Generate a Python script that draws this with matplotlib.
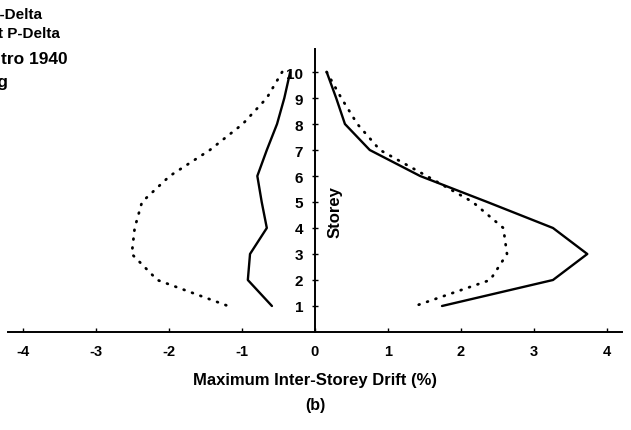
import matplotlib
matplotlib.use("Agg")
import matplotlib.pyplot as plt

plt.rcParams['font.family'] = ['Liberation Sans', 'DejaVu Sans']

storeys = [10, 9, 8, 7, 6, 5, 4, 3, 2, 1]

# negative direction of loading
neg_with_pdelta = [-0.34, -0.42, -0.52, -0.66, -0.79, -0.73, -0.66, -0.89, -0.92, -0.59]
neg_without_pdelta = [-0.45, -0.66, -0.99, -1.44, -1.99, -2.37, -2.47, -2.51, -2.16, -1.19]

# positive direction of loading
pos_with_pdelta = [0.16, 0.29, 0.41, 0.75, 1.44, 2.36, 3.26, 3.73, 3.26, 1.74]
pos_without_pdelta = [0.16, 0.36, 0.58, 0.89, 1.53, 2.16, 2.58, 2.63, 2.40, 1.37]

x_ticks = [-4, -3, -2, -1, 0, 1, 2, 3, 4]
x_tick_labels = ['-4', '-3', '-2', '-1', '0', '1', '2', '3', '4']
y_ticks = [1, 2, 3, 4, 5, 6, 7, 8, 9, 10]

legend_lines = ['With P-Delta', 'Without P-Delta', 'El Centro 1940', 'PGA 0.5g']

fig = plt.figure(figsize=(6.31, 4.31), dpi=100)
ax = fig.add_axes([0.0133, 0.2274, 0.9718, 0.6575])

dotted = (0, (0.3, 2.9))
ax.plot(neg_with_pdelta, storeys, color='black', lw=1.7, solid_capstyle='round')
ax.plot(pos_with_pdelta, storeys, color='black', lw=1.7, solid_capstyle='round')
ax.plot(neg_without_pdelta, storeys, color='black', lw=2.0, linestyle=dotted,
        dash_capstyle='round')
ax.plot(pos_without_pdelta, storeys, color='black', lw=2.0, linestyle=dotted,
        dash_capstyle='round')

ax.set_xlim(-4.2, 4.2)
ax.set_ylim(0, 10.9)

for side in ['top', 'right']:
    ax.spines[side].set_visible(False)
ax.spines['left'].set_position(('data', 0))
ax.spines['left'].set_linewidth(1.4)
ax.spines['bottom'].set_linewidth(1.4)

ax.set_xticks(x_ticks)
ax.set_xticklabels(x_tick_labels, fontsize=10.5, fontweight='bold')
ax.tick_params(axis='x', direction='in', length=3, width=1, pad=9)
ax.set_yticks(y_ticks)
ax.set_yticklabels([str(s) for s in y_ticks], fontsize=11, fontweight='bold')
ax.tick_params(axis='y', direction='inout', length=5, width=1, pad=6)

ax.set_xlabel('Maximum Inter-Storey Drift (%)', fontsize=12, fontweight='bold',
              labelpad=10)
fig.text(0.4992, 0.06, '(b)', ha='center', va='center', fontsize=11.5,
         fontweight='bold')

ax.text(0.27, 4.65, 'Storey', rotation=90, ha='center', va='center',
        fontsize=12, fontweight='bold')

# legend block at the upper left
legend_right = [42, 60, 68, 8]
legend_base = [19, 38, 64, 87]
legend_size = [11, 11, 12.5, 12.5]
for label, xr, yb, fs in zip(legend_lines, legend_right, legend_base, legend_size):
    fig.text(xr / 631, 1 - yb / 431, label, ha='right', va='baseline',
             fontsize=fs, fontweight='bold')

fig.savefig('out.png', dpi=100)
